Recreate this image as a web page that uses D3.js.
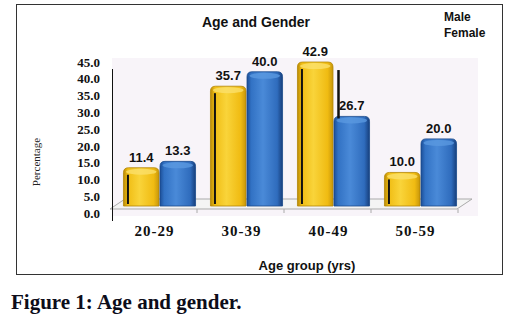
<!DOCTYPE html>
<html>
<head>
<meta charset="utf-8">
<script src="https://cdn.jsdelivr.net/npm/d3@7"></script>
<style>
  body { margin: 0; background: #fff; }
  svg { display: block; }
</style>
</head>
<body>
<script>
// chart data
var ageGroups = ["20-29", "30-39", "40-49", "50-59"];
var series = ["Male", "Female"];
var maleValues = [11.4, 35.7, 42.9, 10.0];
var femaleValues = [13.3, 40.0, 26.7, 20.0];
var yTicks = [0, 5, 10, 15, 20, 25, 30, 35, 40, 45];

var w = 517, h = 320;
var depth = 7; // fake 3d offset

var svg = d3.select("body").append("svg")
    .attr("width", w)
    .attr("height", h);

// gradients for the cylinder look
var defs = svg.append("defs");
function grad(id, stops) {
  var g = defs.append("linearGradient").attr("id", id)
      .attr("x1", "0%").attr("x2", "100%").attr("y1", "0%").attr("y2", "0%");
  stops.forEach(function(s) {
    g.append("stop").attr("offset", s[0]).attr("stop-color", s[1]);
  });
}
grad("gMale", [["0%", "#b98a06"], ["12%", "#f0bd14"], ["45%", "#f9d43a"], ["85%", "#f0bb12"], ["100%", "#c7960a"]]);
grad("gFemale", [["0%", "#1c4f98"], ["12%", "#3272c4"], ["45%", "#4a8ad8"], ["85%", "#2f6cbd"], ["100%", "#173f7c"]]);

// frame
svg.append("rect")
    .attr("x", 16.5).attr("y", 4.5)
    .attr("width", 486).attr("height", 270)
    .attr("fill", "none")
    .attr("stroke", "#333")
    .attr("stroke-width", 1);

// faint plot background
svg.append("rect")
    .attr("x", 112).attr("y", 58)
    .attr("width", 366).attr("height", 158)
    .attr("fill", "#f8f4f9");

// scales
var x0 = d3.scaleBand().domain(ageGroups).range([116, 464]).paddingInner(0.16).paddingOuter(0.08);
var x1 = d3.scaleBand().domain(series).range([0, x0.bandwidth()]);
var y = d3.scaleLinear().domain([0, 45]).range([206, 55]);

// floor
var floorL = 110, floorR = 457;
svg.append("path")
    .attr("d", "M" + floorL + "," + (y(0) + 3) + "L" + floorR + "," + (y(0) + 3) +
               "L" + (floorR + 15) + "," + (y(0) - 7) + "L" + (floorL + 15) + "," + (y(0) - 7) + "Z")
    .attr("fill", "#f4f4f4")
    .attr("stroke", "#aaa")
    .attr("stroke-width", 1);

// category ticks on floor front edge
var step = x0.step();
svg.selectAll(".ctick")
    .data(d3.range(1, ageGroups.length + 1))
    .enter().append("line")
    .attr("x1", function(i) { return floorL + i * step; })
    .attr("x2", function(i) { return floorL + i * step; })
    .attr("y1", y(0) + 3).attr("y2", y(0) + 7)
    .attr("stroke", "#aaa");

// y axis
var yAxis = d3.axisLeft(y).tickValues(yTicks).tickFormat(d3.format(".1f")).tickSize(0).tickPadding(12);
var gy = svg.append("g")
    .attr("transform", "translate(112," + depth + ")")
    .call(yAxis);
gy.select(".domain").remove();
gy.selectAll("text")
    .attr("font-family", "'Liberation Serif', 'Times New Roman', serif")
    .attr("font-weight", "bold")
    .attr("font-size", "13px")
    .attr("fill", "#111");
svg.append("line")
    .attr("x1", 112.5).attr("x2", 112.5)
    .attr("y1", 69).attr("y2", 221)
    .attr("stroke", "#111");

// bars
var rows = ageGroups.map(function(g, i) {
  return { group: g, vals: [
    { key: "Male", v: maleValues[i] },
    { key: "Female", v: femaleValues[i] }
  ]};
});

var groups = svg.selectAll(".grp")
    .data(rows)
    .enter().append("g")
    .attr("transform", function(d) { return "translate(" + x0(d.group) + ",0)"; });

groups.selectAll("path.bar")
    .data(function(d) { return d.vals; })
    .enter().append("path")
    .attr("class", "bar")
    .attr("d", function(d) {
      var bx = x1(d.key) + 0.5, bw = x1.bandwidth() - 1;
      var top = y(d.v), bot = y(0), r = 5;
      return "M" + bx + "," + bot + "L" + bx + "," + (top + r) +
             "Q" + bx + "," + top + " " + (bx + r) + "," + top +
             "L" + (bx + bw - r) + "," + top +
             "Q" + (bx + bw) + "," + top + " " + (bx + bw) + "," + (top + r) +
             "L" + (bx + bw) + "," + bot + "Z";
    })
    .attr("fill", function(d) { return d.key == "Male" ? "url(#gMale)" : "url(#gFemale)"; })
    .attr("stroke", function(d) { return d.key == "Male" ? "#b48606" : "#1b4a8c"; })
    .attr("stroke-width", 0.8);

// top caps (lighter ellipse)
groups.selectAll("ellipse.cap")
    .data(function(d) { return d.vals; })
    .enter().append("ellipse")
    .attr("cx", function(d) { return x1(d.key) + x1.bandwidth() / 2; })
    .attr("cy", function(d) { return y(d.v) + 4; })
    .attr("rx", function() { return x1.bandwidth() / 2 - 3; })
    .attr("ry", 3)
    .attr("fill", function(d) { return d.key == "Male" ? "#fbe06a" : "#5a98e0"; })
    .attr("opacity", 0.8);

// the dark line that shows in each yellow bar
groups.append("line")
    .attr("x1", 5).attr("x2", 5)
    .attr("y1", function(d) { return y(d.vals[0].v) + 7; })
    .attr("y2", y(0) - 2)
    .attr("stroke", "#111")
    .attr("stroke-width", 2);

// and the stray one above the shorter female bar (40-49)
groups.filter(function(d) { return d.vals[0].v - d.vals[1].v > 5; })
    .append("line")
    .attr("x1", x1("Female") + 5).attr("x2", x1("Female") + 5)
    .attr("y1", function(d) { return y(d.vals[0].v) + 8; })
    .attr("y2", function(d) { return y(d.vals[1].v) + 2; })
    .attr("stroke", "#111")
    .attr("stroke-width", 2.5);

// value labels
groups.selectAll("text.val")
    .data(function(d) { return d.vals; })
    .enter().append("text")
    .attr("x", function(d) { return x1(d.key) + x1.bandwidth() / 2; })
    .attr("y", function(d) { return y(d.v) - 6; })
    .attr("text-anchor", "middle")
    .attr("font-family", "'Liberation Sans', Arial, sans-serif")
    .attr("font-weight", "bold")
    .attr("font-size", "13px")
    .attr("fill", "#111")
    .text(function(d) { return d.v.toFixed(1); });

// x category labels
svg.selectAll(".xlab")
    .data(ageGroups)
    .enter().append("text")
    .attr("x", function(d) { return x0(d) + x0.bandwidth() / 2 - 5; })
    .attr("y", 236)
    .attr("text-anchor", "middle")
    .attr("font-family", "'Liberation Serif', 'Times New Roman', serif")
    .attr("font-weight", "bold")
    .attr("font-size", "15px")
    .attr("letter-spacing", "1px")
    .attr("fill", "#111")
    .text(function(d) { return d; });

// title
svg.append("text")
    .attr("x", 256).attr("y", 27)
    .attr("text-anchor", "middle")
    .attr("font-family", "'Liberation Sans', Arial, sans-serif")
    .attr("font-weight", "bold")
    .attr("font-size", "14px")
    .attr("fill", "#111")
    .text("Age and Gender");

// legend (text only, as in the source)
svg.selectAll(".leg")
    .data(series)
    .enter().append("text")
    .attr("x", 444)
    .attr("y", function(d, i) { return 21 + i * 16; })
    .attr("font-family", "'Liberation Sans', Arial, sans-serif")
    .attr("font-weight", "bold")
    .attr("font-size", "12px")
    .attr("fill", "#111")
    .text(function(d) { return d; });

// axis titles
svg.append("text")
    .attr("transform", "translate(40,162) rotate(-90)")
    .attr("text-anchor", "middle")
    .attr("font-family", "'Liberation Serif', serif")
    .attr("font-size", "11px")
    .attr("fill", "#222")
    .text("Percentage");

svg.append("text")
    .attr("x", 307).attr("y", 270)
    .attr("text-anchor", "middle")
    .attr("font-family", "'Liberation Sans', Arial, sans-serif")
    .attr("font-weight", "bold")
    .attr("font-size", "13px")
    .attr("fill", "#111")
    .text("Age group (yrs)");

// caption
svg.append("text")
    .attr("x", 11).attr("y", 309)
    .attr("font-family", "'Liberation Serif', 'Times New Roman', serif")
    .attr("font-weight", "bold")
    .attr("font-size", "21px")
    .attr("fill", "#0d0d1a")
    .text("Figure 1: Age and gender.");
</script>
</body>
</html>
